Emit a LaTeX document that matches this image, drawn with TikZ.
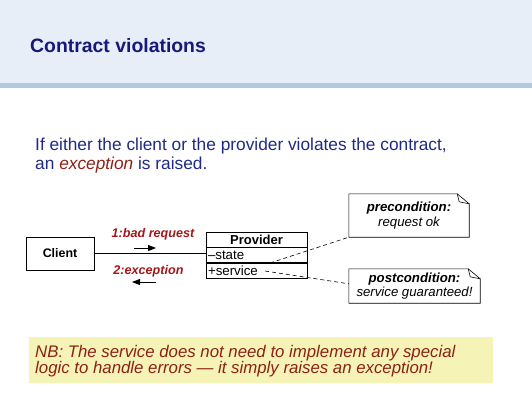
\documentclass[tikz,border=0pt]{standalone}
\usepackage{fontspec}
\setmainfont{Liberation Sans}
\usetikzlibrary{calc,arrows.meta}
\definecolor{headbg}{HTML}{E7EEF7}
\definecolor{headrule}{HTML}{B3C9E1}
\definecolor{titlecol}{HTML}{16197A}
\definecolor{bodycol}{HTML}{1F2A88}
\definecolor{redtxt}{HTML}{A3171B}
\definecolor{nbbg}{HTML}{F6F3B7}
\definecolor{nbtxt}{HTML}{8C2117}
\tikzset{
  classbox/.style={draw, line width=0.8pt, minimum height=33pt, minimum width=68pt, font=\fontsize{12.4}{14}\selectfont\bfseries, inner sep=0pt},
  rowbox/.style={draw, line width=0.8pt, minimum height=15pt, minimum width=101pt, inner sep=2pt, font=\fontsize{13.3}{14}\selectfont, text width=97pt, align=left},
  msglabel/.style={font=\fontsize{12.6}{14}\selectfont\bfseries\itshape, text=redtxt, inner sep=0pt},
  msgarrow/.style={-{Triangle[length=8pt,width=6pt]}, line width=0.9pt},
  notebox/.style={inner sep=0pt, align=center, font=\fontsize{13.2}{14.5}\selectfont},
  noteline/.style={line width=0.6pt},
  dep/.style={line width=0.6pt, dash pattern=on 4pt off 3pt},
}
\begin{document}
\begin{tikzpicture}[x=1pt,y=-1pt]
\useasboundingbox (0,0) rectangle (532,400);
% header band
\fill[headbg] (0,0) rectangle (532,83);
\fill[headrule] (0,83) rectangle (532,88);
\node[anchor=base west, inner sep=0pt, text=titlecol, font=\fontsize{19.4}{21}\selectfont\bfseries] (title) at (30,52) {Contract violations};
% body text
\node[anchor=base west, inner sep=0pt, text=bodycol, font=\fontsize{17.3}{19}\selectfont] (line1) at (35,150) {If either the client or the provider violates the contract,};
\node[anchor=base west, inner sep=0pt, text=bodycol, font=\fontsize{17.3}{19}\selectfont] (line2) at (35,169) {an \textcolor{nbtxt}{\itshape exception} is raised.};
% classes
\node[classbox] (client) at (60,253.5) {Client};
\node[rowbox, font=\fontsize{13}{14}\selectfont\bfseries, align=center] (prov) at (256.5,239.5) {Provider};
\node[rowbox, anchor=north] (state) at (prov.south) {--state};
\node[rowbox, anchor=north] (service) at (state.south) {+service};
\draw[line width=0.6pt] (client.east) -- (client.east -| state.west);
% messages
\node[msglabel] (m1) at (153,234) {1:bad request};
\coordinate (a1s) at (134,248);
\coordinate (a1e) at (156,248);
\draw[msgarrow] (a1s) -- (a1e);
\node[msglabel] (m2) at (148.5,271) {2:exception};
\coordinate (a2s) at (156,282);
\coordinate (a2e) at (132,282);
\draw[msgarrow] (a2s) -- (a2e);
% notes
\node[notebox, minimum width=120pt, minimum height=43pt] (pre) at (409,215.5) {\bfseries\itshape precondition:\\\itshape request ok};
\node[notebox, minimum width=131pt, minimum height=34pt] (post) at (414.5,286) {\bfseries\itshape postcondition:\\\itshape service guaranteed!};
\foreach \n in {pre,post}{
  \draw[noteline] (\n.north west) -- ($(\n.north east)+(-12,0)$) -- ($(\n.north east)+(0,10)$) -- (\n.south east) -- (\n.south west) -- cycle;
  \draw[noteline] ($(\n.north east)+(-12,0)$) -- ($(\n.north east)+(-10,8)$) -- ($(\n.north east)+(0,10)$);
}
% dependencies from the provider to its notes
\coordinate (d1) at (270,263);
\coordinate (d2) at (265,271);
\draw[dep] (d1) -- (pre.south west);
\draw[dep] (d2) -- ($(post.north west)+(0,15)$);
% note at the bottom
\fill[nbbg] (29,337) rectangle (493,383);
\node[anchor=base west, inner sep=0pt, text=nbtxt, font=\fontsize{16.8}{17}\selectfont\itshape] (nb1) at (35,357) {NB: The service does not need to implement any special};
\node[anchor=base west, inner sep=0pt, text=nbtxt, font=\fontsize{16.8}{17}\selectfont\itshape] (nb2) at (35,373) {logic to handle errors --- it simply raises an exception!};
\end{tikzpicture}
\end{document}
